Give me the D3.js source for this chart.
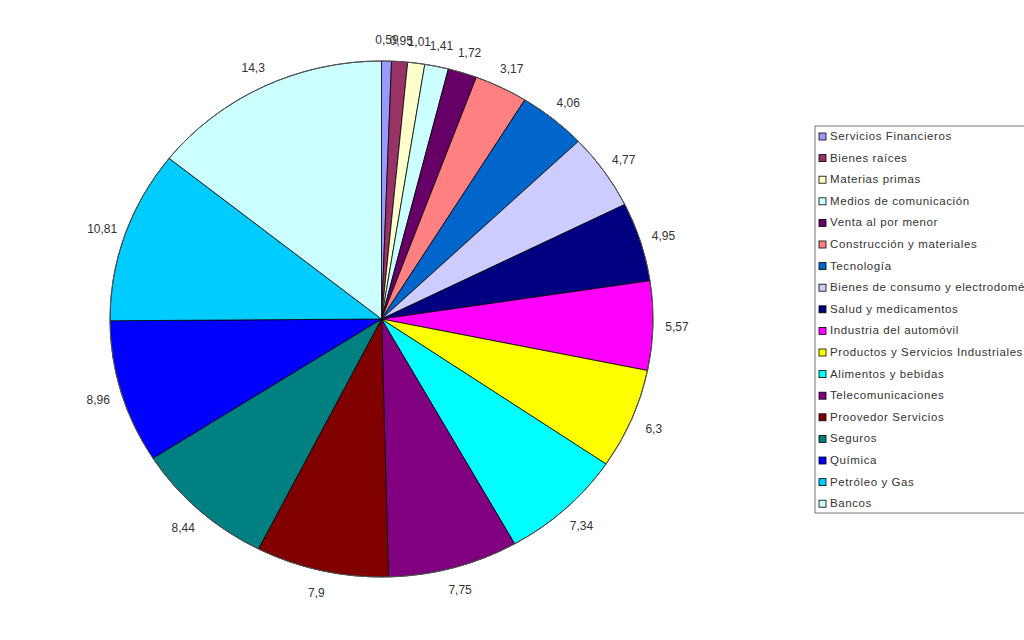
<!DOCTYPE html>
<html>
<head>
<meta charset="utf-8">
<script src="https://cdn.jsdelivr.net/npm/d3@7"></script>
<style>
  body { margin: 0; background: #fff; }
  svg { display: block; font-family: "Liberation Sans", Arial, sans-serif; }
</style>
</head>
<body>
<svg id="chart" width="1024" height="640"></svg>
<script>
const sectors = [
  "Servicios Financieros", "Bienes raíces", "Materias primas", "Medios de comunicación",
  "Venta al por menor", "Construcción y materiales", "Tecnología",
  "Bienes de consumo y electrodomésticos", "Salud y medicamentos", "Industria del automóvil",
  "Productos y Servicios Industriales", "Alimentos y bebidas", "Telecomunicaciones",
  "Proovedor Servicios", "Seguros", "Química", "Petróleo y Gas", "Bancos"
];
const shares = [0.59, 0.95, 1.01, 1.41, 1.72, 3.17, 4.06, 4.77, 4.95, 5.57, 6.3, 7.34, 7.75, 7.9, 8.44, 8.96, 10.81, 14.3];
const colors = [
  "#9999ff", "#993366", "#ffffcc", "#ccffff", "#660066", "#ff8080", "#0066cc",
  "#ccccff", "#000080", "#ff00ff", "#ffff00", "#00ffff", "#800080",
  "#800000", "#008080", "#0000ff", "#00ccff", "#ccffff"
];

const data = sectors.map((s, i) => ({ name: s, value: shares[i], color: colors[i] }));

const svg = d3.select("#chart");
const cx = 381.5, cy = 319;
const rx = 271.5, ry = 258;

const pie = d3.pie().sort(null).value(d => d.value);
const arcs = pie(data);
const arc = d3.arc().innerRadius(0).outerRadius(rx);

// the picture is a little stretched sideways, so squash the pie vertically
const g = svg.append("g")
  .attr("transform", `translate(${cx},${cy}) scale(1,${ry / rx})`);

g.selectAll("path")
  .data(arcs)
  .enter().append("path")
  .attr("d", arc)
  .attr("fill", d => d.data.color)
  .attr("stroke", "#000")
  .attr("stroke-width", 0.8);

g.append("ellipse")
  .attr("rx", rx).attr("ry", rx)
  .attr("fill", "none")
  .attr("stroke", "#555")
  .attr("stroke-width", 1);

const fmt = v => String(v).replace(".", ",");

svg.selectAll(".lbl")
  .data(arcs)
  .enter().append("text")
  .attr("class", "lbl")
  .attr("x", d => cx + (rx + 24) * Math.sin((d.startAngle + d.endAngle) / 2))
  .attr("y", d => cy + 2 - (ry + 22) * Math.cos((d.startAngle + d.endAngle) / 2))
  .attr("text-anchor", "middle")
  .attr("dominant-baseline", "middle")
  .attr("font-size", 12)
  .attr("fill", "#333")
  .text(d => fmt(d.data.value));

// legend
const lx = 815, ly = 126, rowH = 21.6;
svg.append("rect")
  .attr("x", lx).attr("y", ly)
  .attr("width", 230).attr("height", 387)
  .attr("fill", "#fff")
  .attr("stroke", "#777")
  .attr("stroke-width", 1);

const items = svg.selectAll(".item")
  .data(data)
  .enter().append("g")
  .attr("class", "item")
  .attr("transform", (d, i) => `translate(${lx + 4},${ly + 11 + i * rowH})`);

items.append("rect")
  .attr("x", 0).attr("y", -4)
  .attr("width", 7).attr("height", 7)
  .attr("fill", d => d.color)
  .attr("stroke", "#000")
  .attr("stroke-width", 0.8);

items.append("text")
  .attr("x", 11).attr("y", 0)
  .attr("dominant-baseline", "middle")
  .attr("font-size", 11.5)
  .attr("letter-spacing", 0.6)
  .attr("fill", "#333")
  .text(d => d.name);
</script>
</body>
</html>
